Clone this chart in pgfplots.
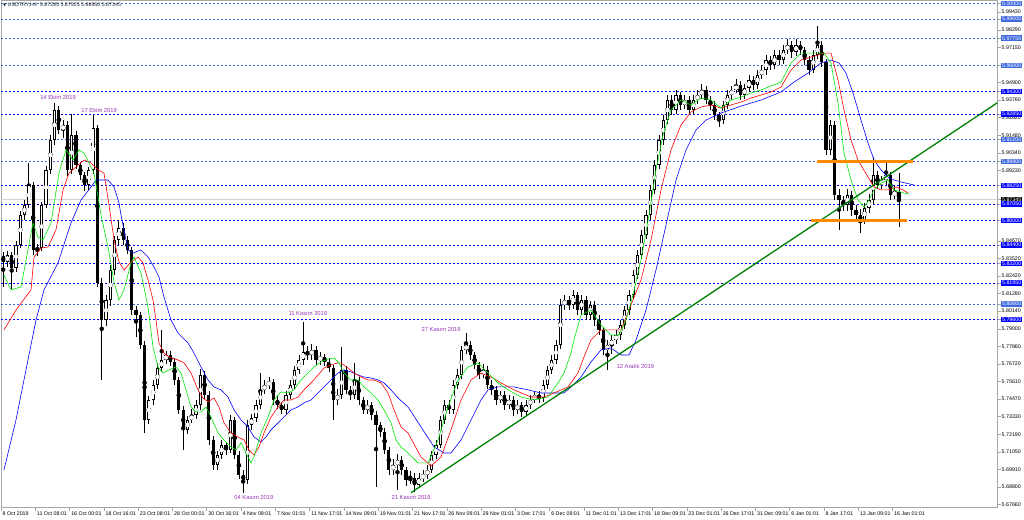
\documentclass[border=0pt]{standalone}
\usepackage{pgfplots}
\pgfplotsset{compat=1.18}
\usepackage{pgfplotstable}
\usepackage{fontspec}
\setmainfont{Liberation Sans}
\newfontfamily\dejavu{DejaVu Sans}
\definecolor{bblue}{RGB}{0,0,255}
\definecolor{lblue}{RGB}{65,105,225}
\definecolor{anno}{RGB}{150,50,180}
\definecolor{orng}{RGB}{255,140,0}
\definecolor{tline}{RGB}{0,128,0}
\definecolor{lips}{RGB}{0,230,0}
\definecolor{teeth}{RGB}{255,0,0}
\definecolor{jaw}{RGB}{0,0,255}
\newcommand{\lb}[1]{{\setlength{\fboxsep}{0.9pt}\colorbox{lblue}{\textcolor{white}{#1}}}}
\newcommand{\bb}[1]{{\setlength{\fboxsep}{0.9pt}\colorbox{bblue}{\textcolor{white}{#1}}}}
\newcommand{\kb}[1]{{\setlength{\fboxsep}{0.9pt}\colorbox{black}{\textcolor{white}{#1}}}}
\newcommand{\tf}{\fontsize{5.3}{6}\selectfont}

\pgfplotstableread{
x o h l c
0.5 5.8370 5.8395 5.8170 5.8331
1.5 5.8331 5.8400 5.8300 5.8376
2.5 5.8376 5.8395 5.8160 5.8292
3.5 5.8292 5.8465 5.8270 5.8441
4.5 5.8441 5.8660 5.8420 5.8634
5.5 5.8634 5.8730 5.8605 5.8699
6.5 5.8699 5.8970 5.8680 5.8828
7.5 5.8828 5.8850 5.8380 5.8409
8.5 5.8409 5.8450 5.8370 5.8422
9.5 5.8422 5.8720 5.8400 5.8699
10.5 5.8699 5.8950 5.8680 5.8925
11.5 5.8925 5.9150 5.8900 5.9118
12.5 5.9118 5.9357 5.9090 5.9312
13.5 5.9312 5.9340 5.9160 5.9183
14.5 5.9183 5.9250 5.9130 5.9215
15.5 5.9215 5.9240 5.8890 5.8925
16.5 5.8925 5.9290 5.8900 5.9150
17.5 5.9150 5.9175 5.8930 5.8957
18.5 5.8957 5.8980 5.8860 5.8892
19.5 5.8892 5.8910 5.8790 5.8828
20.5 5.8828 5.8945 5.8800 5.8925
21.5 5.8925 5.9280 5.8900 5.9196
22.5 5.9196 5.9215 5.8170 5.8196
23.5 5.8196 5.8230 5.7570 5.7957
24.5 5.7957 5.8120 5.7920 5.8086
25.5 5.8086 5.8310 5.8050 5.8280
26.5 5.8280 5.8500 5.8250 5.8473
27.5 5.8473 5.8602 5.8440 5.8550
28.5 5.8550 5.8580 5.8440 5.8473
29.5 5.8473 5.8500 5.8380 5.8409
30.5 5.8409 5.8430 5.7990 5.8021
31.5 5.8021 5.8050 5.7847 5.7989
32.5 5.7989 5.8010 5.7770 5.7796
33.5 5.7796 5.7820 5.7228 5.7312
34.5 5.7312 5.7470 5.7290 5.7441
35.5 5.7441 5.7570 5.7410 5.7538
36.5 5.7538 5.7680 5.7510 5.7647
37.5 5.7647 5.7893 5.7620 5.7699
38.5 5.7699 5.7760 5.7670 5.7731
39.5 5.7731 5.7760 5.7660 5.7686
40.5 5.7686 5.7710 5.7540 5.7570
41.5 5.7570 5.7590 5.7350 5.7377
42.5 5.7377 5.7400 5.7119 5.7248
43.5 5.7248 5.7340 5.7220 5.7312
44.5 5.7312 5.7380 5.7290 5.7344
45.5 5.7344 5.7440 5.7320 5.7409
46.5 5.7409 5.7640 5.7380 5.7602
47.5 5.7602 5.7630 5.7450 5.7473
48.5 5.7473 5.7500 5.7150 5.7183
49.5 5.7183 5.7210 5.6990 5.7022
50.5 5.7022 5.7110 5.6990 5.7086
51.5 5.7086 5.7180 5.7060 5.7151
52.5 5.7151 5.7170 5.7090 5.7119
53.5 5.7119 5.7345 5.7100 5.7312
54.5 5.7312 5.7330 5.7060 5.7086
55.5 5.7086 5.7110 5.6930 5.6957
56.5 5.6957 5.6990 5.6841 5.6925
57.5 5.6925 5.7310 5.6900 5.7280
58.5 5.7280 5.7350 5.7250 5.7325
59.5 5.7325 5.7440 5.7300 5.7409
60.5 5.7409 5.7615 5.7380 5.7506
61.5 5.7506 5.7570 5.7480 5.7538
62.5 5.7538 5.7590 5.7510 5.7557
63.5 5.7557 5.7580 5.7410 5.7441
64.5 5.7441 5.7470 5.7380 5.7409
65.5 5.7409 5.7430 5.7350 5.7377
66.5 5.7377 5.7500 5.7350 5.7473
67.5 5.7473 5.7570 5.7450 5.7538
68.5 5.7538 5.7660 5.7510 5.7635
69.5 5.7635 5.7730 5.7610 5.7699
70.5 5.7699 5.7944 5.7670 5.7751
71.5 5.7751 5.7790 5.7700 5.7731
72.5 5.7731 5.7800 5.7700 5.7764
73.5 5.7764 5.7790 5.7670 5.7699
74.5 5.7699 5.7750 5.7670 5.7718
75.5 5.7718 5.7740 5.7660 5.7686
76.5 5.7686 5.7710 5.7620 5.7647
77.5 5.7647 5.7670 5.7312 5.7441
78.5 5.7441 5.7510 5.7410 5.7473
79.5 5.7473 5.7783 5.7450 5.7635
80.5 5.7635 5.7660 5.7480 5.7506
81.5 5.7506 5.7530 5.7440 5.7473
82.5 5.7473 5.7680 5.7450 5.7570
83.5 5.7570 5.7590 5.7410 5.7441
84.5 5.7441 5.7460 5.7350 5.7377
85.5 5.7377 5.7440 5.7350 5.7409
86.5 5.7409 5.7430 5.7310 5.7344
87.5 5.7344 5.7370 5.6880 5.7280
88.5 5.7280 5.7300 5.7200 5.7235
89.5 5.7235 5.7260 5.7090 5.7119
90.5 5.7119 5.7140 5.6960 5.6990
91.5 5.6990 5.7060 5.6960 5.7022
92.5 5.7022 5.7090 5.6861 5.7054
93.5 5.7054 5.7080 5.6960 5.6990
94.5 5.6990 5.7010 5.6890 5.6925
95.5 5.6925 5.6980 5.6900 5.6938
96.5 5.6938 5.6970 5.6848 5.6893
97.5 5.6893 5.6970 5.6870 5.6938
98.5 5.6938 5.6990 5.6910 5.6957
99.5 5.6957 5.7020 5.6930 5.6990
100.5 5.6990 5.7110 5.6970 5.7086
101.5 5.7086 5.7180 5.7060 5.7151
102.5 5.7151 5.7340 5.7130 5.7312
103.5 5.7312 5.7440 5.7290 5.7409
104.5 5.7409 5.7440 5.7350 5.7377
105.5 5.7377 5.7570 5.7350 5.7538
106.5 5.7538 5.7640 5.7510 5.7602
107.5 5.7602 5.7790 5.7580 5.7764
108.5 5.7764 5.7873 5.7740 5.7796
109.5 5.7796 5.7820 5.7700 5.7731
110.5 5.7731 5.7750 5.7640 5.7667
111.5 5.7667 5.7690 5.7580 5.7602
112.5 5.7602 5.7670 5.7580 5.7635
113.5 5.7635 5.7660 5.7510 5.7538
114.5 5.7538 5.7570 5.7470 5.7506
115.5 5.7506 5.7530 5.7410 5.7441
116.5 5.7441 5.7500 5.7420 5.7473
117.5 5.7473 5.7500 5.7380 5.7409
118.5 5.7409 5.7470 5.7380 5.7441
119.5 5.7441 5.7470 5.7340 5.7377
120.5 5.7377 5.7440 5.7350 5.7409
121.5 5.7409 5.7430 5.7330 5.7364
122.5 5.7364 5.7440 5.7340 5.7409
123.5 5.7409 5.7470 5.7380 5.7441
124.5 5.7441 5.7500 5.7420 5.7473
125.5 5.7473 5.7500 5.7420 5.7454
126.5 5.7454 5.7570 5.7430 5.7538
127.5 5.7538 5.7660 5.7510 5.7635
128.5 5.7635 5.7730 5.7610 5.7699
129.5 5.7699 5.7830 5.7670 5.7796
130.5 5.7796 5.8090 5.7770 5.8054
131.5 5.8054 5.8120 5.8020 5.8086
132.5 5.8086 5.8110 5.8020 5.8054
133.5 5.8054 5.8150 5.8030 5.8118
134.5 5.8118 5.8140 5.7990 5.8022
135.5 5.8022 5.8120 5.7990 5.8086
136.5 5.8086 5.8110 5.7960 5.7989
137.5 5.7989 5.8080 5.7960 5.8054
138.5 5.8054 5.8080 5.7920 5.7957
139.5 5.7957 5.7990 5.7860 5.7893
140.5 5.7893 5.7910 5.7730 5.7764
141.5 5.7764 5.7830 5.7634 5.7796
142.5 5.7796 5.7860 5.7740 5.7828
143.5 5.7828 5.7890 5.7800 5.7860
144.5 5.7860 5.7960 5.7830 5.7925
145.5 5.7925 5.8050 5.7900 5.8021
146.5 5.8021 5.8150 5.7990 5.8118
147.5 5.8118 5.8280 5.8090 5.8247
148.5 5.8247 5.8410 5.8220 5.8376
149.5 5.8376 5.8540 5.8350 5.8505
150.5 5.8505 5.8670 5.8480 5.8634
151.5 5.8634 5.8830 5.8600 5.8796
152.5 5.8796 5.8990 5.8770 5.8957
153.5 5.8957 5.9150 5.8930 5.9118
154.5 5.9118 5.9280 5.9090 5.9247
155.5 5.9247 5.9410 5.9220 5.9376
156.5 5.9376 5.9410 5.9280 5.9312
157.5 5.9312 5.9440 5.9290 5.9408
158.5 5.9408 5.9430 5.9310 5.9344
159.5 5.9344 5.9410 5.9320 5.9376
160.5 5.9376 5.9400 5.9280 5.9312
161.5 5.9312 5.9410 5.9290 5.9376
162.5 5.9376 5.9440 5.9350 5.9408
163.5 5.9408 5.9480 5.9380 5.9441
164.5 5.9441 5.9470 5.9350 5.9376
165.5 5.9376 5.9400 5.9310 5.9344
166.5 5.9344 5.9370 5.9250 5.9279
167.5 5.9279 5.9300 5.9200 5.9247
168.5 5.9247 5.9370 5.9220 5.9344
169.5 5.9344 5.9440 5.9320 5.9408
170.5 5.9408 5.9470 5.9380 5.9441
171.5 5.9441 5.9510 5.9420 5.9473
172.5 5.9473 5.9500 5.9380 5.9408
173.5 5.9408 5.9480 5.9380 5.9453
174.5 5.9453 5.9540 5.9430 5.9505
175.5 5.9505 5.9530 5.9440 5.9473
176.5 5.9473 5.9570 5.9450 5.9537
177.5 5.9537 5.9600 5.9510 5.9570
178.5 5.9570 5.9670 5.9540 5.9634
179.5 5.9634 5.9660 5.9570 5.9602
180.5 5.9602 5.9700 5.9580 5.9666
181.5 5.9666 5.9700 5.9600 5.9634
182.5 5.9634 5.9730 5.9610 5.9699
183.5 5.9699 5.9770 5.9670 5.9731
184.5 5.9731 5.9760 5.9650 5.9686
185.5 5.9686 5.9770 5.9660 5.9731
186.5 5.9731 5.9760 5.9670 5.9699
187.5 5.9699 5.9720 5.9600 5.9634
188.5 5.9634 5.9660 5.9540 5.9570
189.5 5.9570 5.9700 5.9550 5.9666
190.5 5.9666 5.9853 5.9640 5.9731
191.5 5.9731 5.9760 5.9590 5.9621
192.5 5.9621 5.9640 5.9020 5.9054
193.5 5.9054 5.9250 5.9020 5.9215
194.5 5.9215 5.9240 5.8730 5.8763
195.5 5.8763 5.8800 5.8538 5.8731
196.5 5.8731 5.8760 5.8660 5.8699
197.5 5.8699 5.8800 5.8660 5.8763
198.5 5.8763 5.8790 5.8630 5.8667
199.5 5.8667 5.8700 5.8600 5.8634
200.5 5.8634 5.8670 5.8518 5.8602
201.5 5.8602 5.8710 5.8580 5.8680
202.5 5.8680 5.8770 5.8650 5.8731
203.5 5.8731 5.9008 5.8700 5.8892
204.5 5.8892 5.8920 5.8800 5.8828
205.5 5.8828 5.8890 5.8800 5.8860
206.5 5.8860 5.8989 5.8830 5.8892
207.5 5.8892 5.8910 5.8730 5.8763
208.5 5.8763 5.8820 5.8740 5.8782
209.5 5.8782 5.8905 5.8557 5.8734
}\candles

\pgfplotstableread{
x v
0.70 5.8247
2.33 5.8151
4.67 5.8170
7.47 5.8583
8.63 5.8492
9.80 5.8473
11.67 5.8583
13.53 5.8905
15.17 5.9054
16.80 5.8989
18.20 5.9054
19.37 5.9034
20.53 5.8970
21.70 5.8905
23.33 5.8634
24.97 5.8428
26.37 5.8202
27.53 5.8086
28.70 5.8151
30.33 5.8325
31.03 5.8363
32.66 5.8260
34.30 5.8041
35.46 5.7783
36.63 5.7654
37.80 5.7615
39.20 5.7635
40.83 5.7654
42.00 5.7615
43.16 5.7506
44.33 5.7396
45.50 5.7364
46.66 5.7364
47.83 5.7396
49.00 5.7331
50.63 5.7228
52.03 5.7183
53.66 5.7138
54.83 5.7119
56.00 5.7164
57.16 5.7099
58.33 5.7035
59.03 5.7073
60.66 5.7228
62.30 5.7331
63.70 5.7441
65.33 5.7493
66.96 5.7486
68.36 5.7506
70.00 5.7570
71.63 5.7615
73.03 5.7654
74.66 5.7686
76.30 5.7705
77.70 5.7712
78.86 5.7680
80.03 5.7615
81.66 5.7570
83.30 5.7570
84.69 5.7525
86.33 5.7486
87.96 5.7441
89.36 5.7377
91.00 5.7293
92.16 5.7183
93.33 5.7138
94.96 5.7099
97.29 5.7035
99.63 5.7035
101.96 5.7183
104.29 5.7396
106.63 5.7570
108.96 5.7654
111.29 5.7680
113.63 5.7615
115.96 5.7551
118.29 5.7506
121.33 5.7460
124.36 5.7441
127.62 5.7460
129.96 5.7551
131.36 5.7615
132.99 5.7744
133.69 5.7828
135.32 5.7989
137.66 5.8021
139.99 5.7925
142.32 5.7860
144.19 5.7860
145.82 5.7957
147.46 5.8118
149.32 5.8344
151.19 5.8634
152.82 5.8925
154.46 5.9150
156.32 5.9312
158.66 5.9376
160.99 5.9344
163.32 5.9389
165.66 5.9376
167.99 5.9324
170.32 5.9376
172.66 5.9395
174.99 5.9421
177.32 5.9441
179.65 5.9466
181.99 5.9492
184.32 5.9615
186.65 5.9679
189.69 5.9679
192.02 5.9679
193.65 5.9615
195.29 5.9357
196.69 5.9034
198.32 5.8860
199.95 5.8731
201.35 5.8686
202.52 5.8731
203.69 5.8796
205.32 5.8841
206.95 5.8860
208.35 5.8796
210.69 5.8776
211.85 5.8770
}\lipsdata

\pgfplotstableread{
x v
0.70 5.7893
3.50 5.8021
7.00 5.8151
7.70 5.8363
9.33 5.8421
10.97 5.8428
12.83 5.8538
14.47 5.8796
15.87 5.8905
17.50 5.8944
19.37 5.8989
21.00 5.8970
22.63 5.8925
24.03 5.8905
25.20 5.8699
26.37 5.8473
27.53 5.8331
28.70 5.8280
30.33 5.8331
31.96 5.8363
33.13 5.8325
34.30 5.8215
35.46 5.8086
36.16 5.7957
36.86 5.7809
38.03 5.7744
39.20 5.7718
41.30 5.7699
42.70 5.7680
44.33 5.7615
45.96 5.7506
47.13 5.7454
48.30 5.7428
49.70 5.7454
50.86 5.7396
52.03 5.7293
53.66 5.7228
55.30 5.7202
56.70 5.7183
57.86 5.7119
59.03 5.7086
60.20 5.7138
61.36 5.7228
63.00 5.7331
64.63 5.7396
66.03 5.7441
67.66 5.7441
69.30 5.7460
70.70 5.7506
72.33 5.7551
73.96 5.7602
75.36 5.7647
77.00 5.7667
78.63 5.7680
79.33 5.7680
80.96 5.7647
82.36 5.7615
84.00 5.7589
85.63 5.7570
87.03 5.7570
88.66 5.7551
90.30 5.7486
91.69 5.7377
93.33 5.7267
94.96 5.7228
97.99 5.7073
100.33 5.7015
102.66 5.7073
104.99 5.7248
107.33 5.7441
109.66 5.7570
111.99 5.7615
114.33 5.7589
116.66 5.7551
119.69 5.7506
123.66 5.7460
126.69 5.7460
129.02 5.7486
132.29 5.7525
134.62 5.7615
136.02 5.7718
137.66 5.7828
139.99 5.7893
142.32 5.7893
144.66 5.7893
146.99 5.8054
149.32 5.8215
151.66 5.8473
153.99 5.8796
156.32 5.9054
158.66 5.9215
160.99 5.9299
163.32 5.9331
165.66 5.9344
167.99 5.9324
170.32 5.9344
172.66 5.9363
174.99 5.9389
177.32 5.9408
179.65 5.9428
181.99 5.9460
184.32 5.9570
186.65 5.9634
188.99 5.9653
192.02 5.9679
193.65 5.9679
195.29 5.9505
196.69 5.9312
198.32 5.9118
199.95 5.8989
202.29 5.8879
203.69 5.8815
205.32 5.8796
206.95 5.8796
208.82 5.8815
210.45 5.8796
211.62 5.8776
}\teethdata

\pgfplotstableread{
x v
0.70 5.6990
3.50 5.7312
5.83 5.7635
8.17 5.7957
10.03 5.8151
13.30 5.8325
16.33 5.8583
18.67 5.8731
21.00 5.8815
22.17 5.8860
24.97 5.8860
26.37 5.8815
27.53 5.8712
28.00 5.8634
29.63 5.8409
30.80 5.8389
32.66 5.8409
34.30 5.8363
35.70 5.8299
36.86 5.8234
38.03 5.8105
39.66 5.7957
41.30 5.7873
43.63 5.7809
45.03 5.7744
46.66 5.7654
48.30 5.7570
49.70 5.7525
51.33 5.7506
52.96 5.7460
54.36 5.7377
56.00 5.7312
57.63 5.7267
59.03 5.7202
60.66 5.7170
61.83 5.7202
63.00 5.7248
64.63 5.7293
66.03 5.7331
67.66 5.7377
69.30 5.7396
70.70 5.7422
72.33 5.7441
73.96 5.7486
75.36 5.7525
77.00 5.7570
78.63 5.7615
80.03 5.7635
81.66 5.7622
83.30 5.7602
84.69 5.7589
86.33 5.7583
87.96 5.7570
89.36 5.7551
91.00 5.7506
92.63 5.7454
94.96 5.7396
97.99 5.7267
101.03 5.7138
103.36 5.7099
104.99 5.7099
107.33 5.7183
109.66 5.7312
111.99 5.7441
113.63 5.7506
115.96 5.7525
119.69 5.7525
122.96 5.7506
125.99 5.7486
129.02 5.7486
131.36 5.7486
132.99 5.7525
135.32 5.7589
137.66 5.7686
139.99 5.7764
142.32 5.7776
144.66 5.7731
146.52 5.7731
148.16 5.7828
150.49 5.8021
152.82 5.8280
155.16 5.8570
157.49 5.8860
159.82 5.9054
162.16 5.9183
164.49 5.9247
167.99 5.9292
172.66 5.9337
177.32 5.9376
181.99 5.9428
185.02 5.9492
188.29 5.9550
191.32 5.9615
193.65 5.9634
195.52 5.9615
197.15 5.9550
198.79 5.9421
200.65 5.9247
202.29 5.9099
203.69 5.8989
205.32 5.8925
206.95 5.8879
208.35 5.8860
209.99 5.8847
213.02 5.8828
}\jawdata

\begin{document}
\begin{tikzpicture}
\useasboundingbox (0pt,0pt) rectangle (1024pt,-519pt);
\begin{axis}[
  at={(1pt,0pt)}, anchor=north west,
  scale only axis, width=996.5pt, height=507.5pt,
  xmin=0, xmax=232.5, ymin=5.67471, ymax=6.00213,
  clip mode=individual,
  axis line style={gray!70},
  tick style={gray!70, line width=0.5pt},
  tick align=outside, major tick length=3pt,
  xtick pos=left, xticklabel pos=left,
  ytick pos=right, yticklabel pos=right,
  xtick={0,8,...,208},
  xticklabels={8 Oct 2019,11 Oct 08:01,16 Oct 00:01,18 Oct 16:01,23 Oct 08:01,28 Oct 00:01,30 Oct 16:01,4 Nov 09:01,7 Nov 01:01,11 Nov 17:01,14 Nov 09:01,19 Nov 01:01,21 Nov 17:01,26 Nov 09:01,29 Nov 01:01,3 Dec 17:01,6 Dec 09:01,11 Dec 01:01,13 Dec 17:01,18 Dec 09:01,23 Dec 01:01,26 Dec 17:01,31 Dec 09:01,6 Jan 01:01,8 Jan 17:01,13 Jan 09:01,16 Jan 01:01},
  xticklabel style={font=\tf, anchor=north west, inner sep=0.5pt, xshift=1pt, yshift=-1pt},
  ytick={5.99430,5.98290,5.97150,5.94900,5.93760,5.92620,5.91480,5.90340,5.89230,5.84670,5.83520,5.82420,5.81280,5.80140,5.79000,5.77860,5.76720,5.75610,5.74470,5.73330,5.72190,5.71050,5.69910,5.68800,5.67660},
  yticklabel style={font=\tf, anchor=west, inner sep=0.5pt, xshift=0.5pt,
    /pgf/number format/fixed, /pgf/number format/fixed zerofill, /pgf/number format/precision=5, /pgf/number format/assume math mode=true},
  extra y ticks={6.0,5.99,5.9775,5.96,5.943,5.9285,5.912,5.898,5.8825,5.87345,5.8705,5.86,5.844,5.832,5.8195,5.806,5.796},
  extra y tick labels={\lb{6.00000},\lb{5.99000},\lb{5.97750},\lb{5.96000},\bb{5.94300},\bb{5.92850},\lb{5.91200},\lb{5.89800},\bb{5.88250},\kb{5.87345},\bb{5.87050},\bb{5.86000},\bb{5.84400},\bb{5.83200},\bb{5.81950},\lb{5.80600},\bb{5.79600}},
  extra y tick style={yticklabel style={inner sep=0pt, xshift=0pt}},
]
% current price line
\addplot[gray!35, line width=1.6pt, forget plot] coordinates {(0,5.87345) (232.5,5.87345)};
% horizontal levels
\pgfplotsinvokeforeach{6.0,5.99,5.9775,5.96,5.912,5.898,5.806}{
  \addplot[lblue, line width=0.6pt, dash pattern=on 2pt off 2pt, forget plot] coordinates {(0,#1) (232.5,#1)};
}
\pgfplotsinvokeforeach{5.943,5.9285,5.8825,5.8705,5.86,5.844,5.832,5.8195,5.796}{
  \addplot[bblue, line width=0.6pt, dash pattern=on 2pt off 2pt, forget plot] coordinates {(0,#1) (232.5,#1)};
}
% wicks
\addplot[black, only marks, mark=none,
  error bars/.cd, y dir=both, y explicit, error mark=none,
  error bar style={line width=0.75pt, black}]
  table[x=x, y expr={(\thisrow{h}+\thisrow{l})/2}, y error expr={(\thisrow{h}-\thisrow{l})/2}] {\candles};
% bodies (outline / bear)
\addplot[black, only marks, mark=none,
  error bars/.cd, y dir=both, y explicit, error mark=none,
  error bar style={line width=3.2pt, black}]
  table[x=x, y expr={(\thisrow{o}+\thisrow{c})/2}, y error expr={max(abs(\thisrow{o}-\thisrow{c})/2,0.0003)}] {\candles};
% bull bodies hollow
\addplot[white, only marks, mark=none,
  restrict expr to domain={\thisrow{c}-\thisrow{o}}{0.0015:1},
  error bars/.cd, y dir=both, y explicit, error mark=none,
  error bar style={line width=1.4pt, white}]
  table[x=x, y expr={(\thisrow{o}+\thisrow{c})/2}, y error expr={abs(\thisrow{o}-\thisrow{c})/2-0.0006}] {\candles};
% alligator
\addplot[jaw, line width=0.6pt, mark=none] table[x=x, y=v] {\jawdata};
\addplot[teeth, line width=0.6pt, mark=none] table[x=x, y=v] {\teethdata};
\addplot[lips, line width=0.6pt, mark=none] table[x=x, y=v] {\lipsdata};
% trend line and box lines
\addplot[tline, line width=1.3pt, mark=none] coordinates {(95.66,5.6843) (232.5,5.9359)};
\addplot[orng, line width=2.8pt, mark=none] coordinates {(190.4,5.8978) (212.8,5.8978)};
\addplot[orng, line width=2.8pt, mark=none] coordinates {(189.0,5.8597) (211.4,5.8597)};
% annotations
\begin{scope}[every node/.style={font=\fontsize{5.8}{6.5}\selectfont, text=anno, inner sep=0pt}]
\node at (axis cs:13.3,5.9395) {14 Ekim 2019};
\node at (axis cs:22.9,5.9312) {17 Ekim 2019};
\node at (axis cs:59.0,5.6809) {04 Kasım 2019};
\node at (axis cs:71.6,5.7996) {11 Kasım 2019};
\node at (axis cs:95.7,5.6809) {21 Kasım 2019};
\node at (axis cs:102.7,5.7893) {27 Kasım 2019};
\node at (axis cs:148.0,5.7660) {12 Aralık 2019};
\end{scope}
\node[anchor=west, inner sep=0pt, font=\tf, text=black!85] at (rel axis cs:0,1) [xshift=2pt, yshift=-5pt] {{\dejavu\fontsize{4}{5}\selectfont ▼}\ USDTRY,H4\ \ 5.87295 5.87925 5.86950 5.87345};
\end{axis}
\end{tikzpicture}
\end{document}
